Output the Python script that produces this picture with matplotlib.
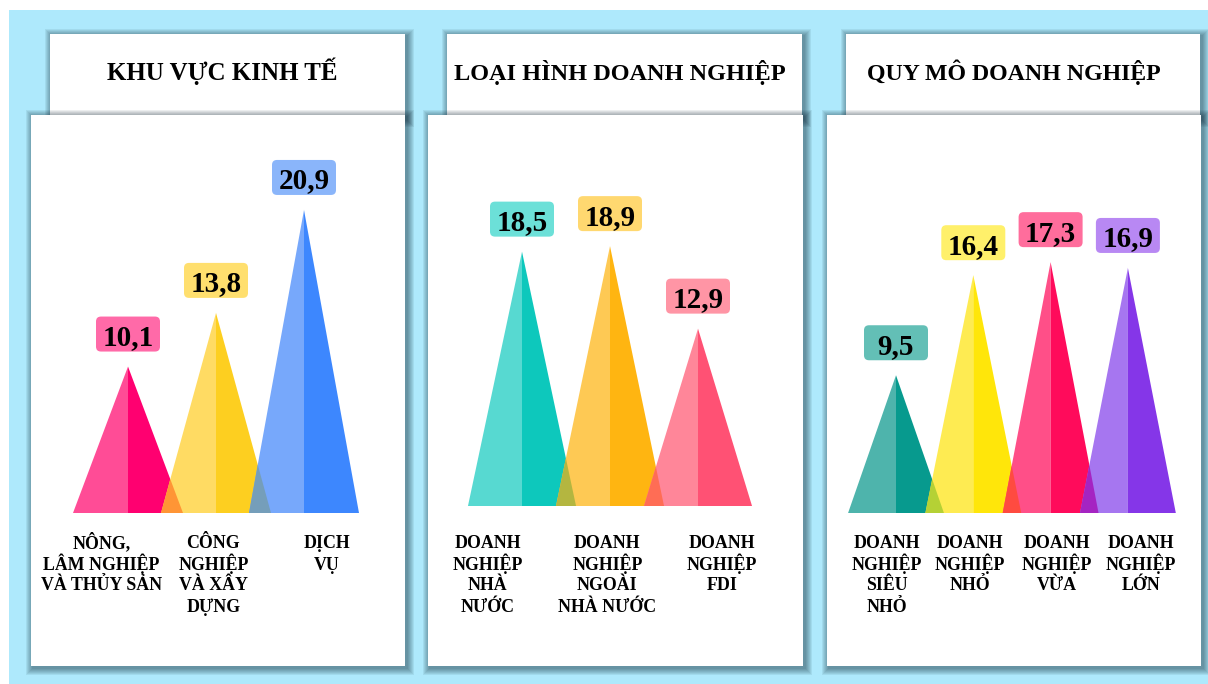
import matplotlib
matplotlib.use("Agg")
import matplotlib.pyplot as plt
from matplotlib.patches import Rectangle, Polygon, FancyBboxPatch

plt.rcParams['font.family'] = ['Liberation Serif', 'DejaVu Serif']

# ---------------- data ----------------
titles = ["KHU VỰC KINH TẾ", "LOẠI HÌNH DOANH NGHIỆP", "QUY MÔ DOANH NGHIỆP"]

sector_labels = ["NÔNG,\nLÂM NGHIỆP\nVÀ THỦY SẢN", "CÔNG\nNGHIỆP\nVÀ XÂY\nDỰNG", "DỊCH\nVỤ"]
sector_values = [10.1, 13.8, 20.9]

type_labels = ["DOANH\nNGHIỆP\nNHÀ\nNƯỚC", "DOANH\nNGHIỆP\nNGOÀI\nNHÀ NƯỚC", "DOANH\nNGHIỆP\nFDI"]
type_values = [18.5, 18.9, 12.9]

size_labels = ["DOANH\nNGHIỆP\nSIÊU\nNHỎ", "DOANH\nNGHIỆP\nNHỎ", "DOANH\nNGHIỆP\nVỪA", "DOANH\nNGHIỆP\nLỚN"]
size_values = [9.5, 16.4, 17.3, 16.9]

# ---------------- styles ----------------
left_colors = [["#FF4C96", "#FFDB63", "#77A8FB"],
               ["#57D9D1", "#FEC954", "#FF8699"],
               ["#4EB4AC", "#FEEB52", "#FF4F88", "#A676F0"]]
right_colors = [["#FF0070", "#FDCF20", "#3D87FE"],
                ["#0DC8BC", "#FFB511", "#FF5174"],
                ["#079A8E", "#FFE60A", "#FF0B5B", "#8536E8"]]
overlap_colors = [["#FF9535", "#759EBA"],
                  ["#B4B640", "#FF6D55"],
                  ["#B5D135", "#FF4B40", "#A524C2"]]
box_colors = [["#FF6AA8", "#FFDF6E", "#8AB5FA"],
              ["#6CE0D8", "#FFD870", "#FF95A5"],
              ["#63BFB6", "#FFF06A", "#FF6D9C", "#B888F3"]]

BG = "#AEE9FC"
SHADOW = "#0A2030"

# ---------------- layout (pixels, origin top-left) ----------------
W, H = 1208, 684
header_boxes = [(50, 34, 405, 118), (447, 34, 802, 118), (846, 34, 1200, 118)]
content_boxes = [(31, 115, 405, 666), (428, 115, 803, 666), (827, 115, 1201, 666)]
title_x = [222, 620, 1014]
title_size = [18, 17.5, 17.2]
peak0 = [128, 522, 896]
spacing = [88, 88, 77.3]
baseline = [513, 506, 513]
px_per_unit = [14.5, 13.75, 14.5]
half_width = [0.625, 0.614, 0.62]
label_offsets = [[-0.30, -0.03, 0.26], [-0.39, -0.03, 0.27], [-0.12, -0.04, 0.08, 0.17]]
YTOP = 25

fig = plt.figure(figsize=(W / 100, H / 100), dpi=100)
fig.patch.set_facecolor("white")
bg = fig.add_axes([0, 0, 1, 1])
bg.set_xlim(0, W)
bg.set_ylim(H, 0)
bg.axis("off")

bg.add_patch(Rectangle((9, 10), W - 9, H - 10, color=BG, lw=0, zorder=0))


def shadow_box(x0, y0, x1, y1, z):
    for k in range(1, 8):
        bg.add_patch(Rectangle((x0 - k + 1.5, y0 - k + 1.5), (x1 - x0) + 2 * k, (y1 - y0) + 2 * k,
                               color=SHADOW, alpha=0.075, lw=0, zorder=z))
    bg.add_patch(Rectangle((x0, y0), x1 - x0, y1 - y0, color="white", lw=0, zorder=z + 0.5))


for p in range(3):
    shadow_box(*header_boxes[p], z=1)
    bg.text(title_x[p], 80, titles[p], ha="center", va="baseline", fontsize=title_size[p],
            fontweight="bold", color="black", zorder=2)
    shadow_box(*content_boxes[p], z=3)

panels = [(sector_labels, sector_values), (type_labels, type_values), (size_labels, size_values)]

for p, (labels, values) in enumerate(panels):
    n = len(values)
    sp = spacing[p]
    left_px = peak0[p] - sp
    width_px = sp * (n + 1)
    height_px = YTOP * px_per_unit[p]
    ax = fig.add_axes([left_px / W, (H - baseline[p]) / H, width_px / W, height_px / H])
    ax.set_xlim(-1, n)
    ax.set_ylim(0, YTOP)
    ax.axis("off")
    ax.patch.set_alpha(0)
    hw = half_width[p]
    for i, v in enumerate(values):
        ax.add_patch(Polygon([(i - hw, 0), (i, v), (i, 0)], closed=True,
                             facecolor=left_colors[p][i], lw=0))
        ax.add_patch(Polygon([(i, 0), (i, v), (i + hw, 0)], closed=True,
                             facecolor=right_colors[p][i], lw=0))
    for i in range(n - 1):
        v1, v2 = values[i], values[i + 1]
        ya = (2 * hw - 1) / (hw / v1 + hw / v2)
        xa = i + hw - (hw / v1) * ya
        ax.add_patch(Polygon([(i + 1 - hw, 0), (xa, ya), (i + hw, 0)], closed=True,
                             facecolor=overlap_colors[p][i], lw=0))

    inv = bg.transData.inverted()
    for i, v in enumerate(values):
        bx, by = inv.transform(ax.transData.transform((i, v)))
        bottom = by - 15
        bg.add_patch(FancyBboxPatch((bx - 32, bottom - 35), 64, 35,
                                    boxstyle="round,pad=0,rounding_size=5",
                                    facecolor=box_colors[p][i], edgecolor="none", zorder=6))
        bg.text(bx, bottom - 6.5, f"{v:.1f}".replace(".", ","), ha="center", va="baseline",
                fontsize=21, fontweight="bold", color="black", zorder=7)

        lx, _ = inv.transform(ax.transData.transform((i + label_offsets[p][i], 0)))
        for j, line in enumerate(labels[i].split("\n")):
            bg.text(lx, 548.5 + 21 * j, line, ha="center", va="baseline", fontsize=12.9,
                    fontweight="bold", color="black", zorder=7)

fig.savefig("out.png", dpi=100, facecolor=fig.get_facecolor())
